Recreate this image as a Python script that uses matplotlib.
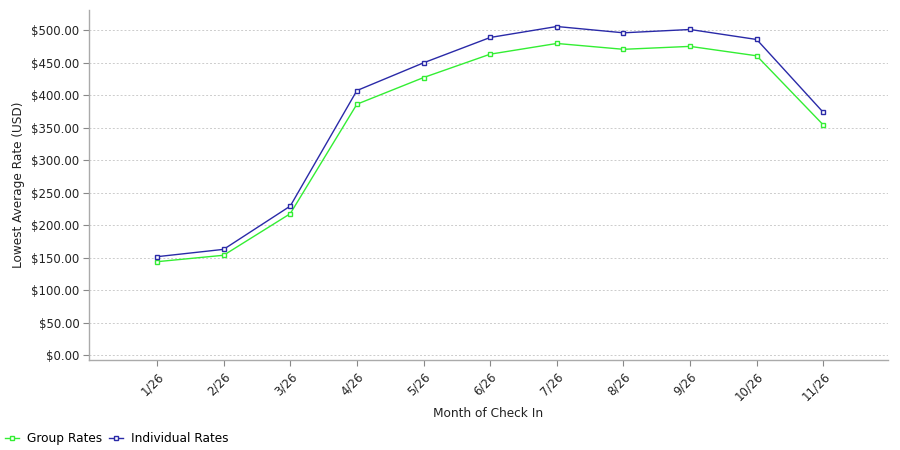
import matplotlib
matplotlib.use("Agg")
import matplotlib.pyplot as plt
from matplotlib.ticker import FuncFormatter, MultipleLocator

months = ["1/26", "2/26", "3/26", "4/26", "5/26", "6/26", "7/26", "8/26", "9/26", "10/26", "11/26"]
group_rates = [143.6, 153.5, 217.5, 386.0, 427.0, 463.0, 479.5, 470.5, 475.0, 460.5, 354.0]
individual_rates = [151.3, 162.6, 229.2, 407.0, 449.7, 488.7, 505.6, 495.9, 501.0, 485.6, 373.3]

green = "#33ee33"
blue = "#2a2aa8"

fig = plt.figure(figsize=(9, 4.5), dpi=100)
ax = fig.add_axes([89/900, 90/450, (888-89)/900, (360-10)/450])

x = list(range(len(months)))
ax.plot(x, group_rates, color=green, lw=1.0, marker="s", ms=3.5, mfc="white", mec=green, mew=1.0, label="Group Rates")
ax.plot(x, individual_rates, color=blue, lw=1.0, marker="s", ms=3.5, mfc="white", mec=blue, mew=1.0, label="Individual Rates")

ax.set_xlim(-1.02, 10.97)
ax.set_ylim(-7.7, 531)
ax.yaxis.set_major_locator(MultipleLocator(50))
ax.yaxis.set_major_formatter(FuncFormatter(lambda v, p: f"${v:,.2f}"))
ax.set_xticks(x)
ax.set_xticklabels(months, rotation=45, ha="right", rotation_mode="anchor")

for s in ["top", "right"]:
    ax.spines[s].set_visible(False)
for s in ["left", "bottom"]:
    ax.spines[s].set_color("#aaaaaa")
    ax.spines[s].set_linewidth(1.0)

ax.tick_params(axis="both", colors="#888888", labelcolor="#222222", labelsize=8.5, length=4, width=0.8)
ax.tick_params(axis="x", pad=3)
ax.tick_params(axis="y", pad=3)
ax.grid(axis="y", color="#cccccc", ls=(0, (2, 2)), lw=0.7)
ax.set_axisbelow(True)

ax.set_ylabel("Lowest Average Rate (USD)", fontsize=8.7, color="#222222", labelpad=4)
ax.set_xlabel("Month of Check In", fontsize=8.7, color="#222222", labelpad=3)

fig.legend(loc="lower left", bbox_to_anchor=(0.0, 0.0), ncol=2, frameon=False, fontsize=8.7,
           handlelength=1.2, handletextpad=0.6, columnspacing=0.6, borderaxespad=0.1, borderpad=0.3)

fig.savefig("out.png", dpi=100)
